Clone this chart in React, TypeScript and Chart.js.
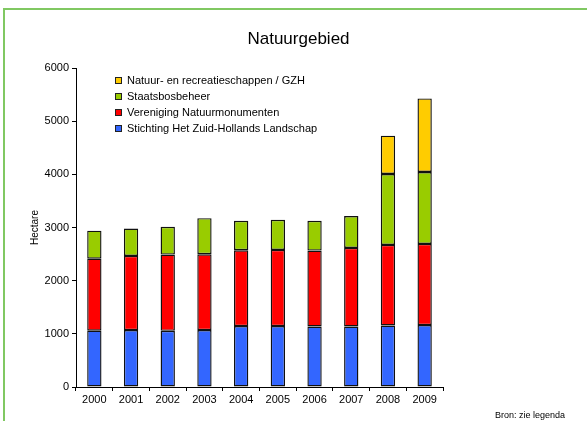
import React, { useEffect, useRef } from "react";
import { Chart, registerables } from "chart.js";

Chart.register(...registerables);

// ---- data ----
const years = ["2000", "2001", "2002", "2003", "2004", "2005", "2006", "2007", "2008", "2009"];
const zuidHollandsLandschap = [1059, 1070, 1057, 1070, 1145, 1145, 1138, 1138, 1157, 1164];
const natuurmonumenten = [1354, 1396, 1434, 1427, 1427, 1434, 1428, 1478, 1516, 1528];
const staatsbosbeheer = [527, 515, 522, 679, 554, 566, 560, 598, 1333, 1352];
const recreatieschappen: (number | null)[] = [null, null, null, null, null, null, null, null, 721, 1384];

const seriesLabels = [
  "Stichting Het Zuid-Hollands Landschap",
  "Vereniging Natuurmonumenten",
  "Staatsbosbeheer",
  "Natuur- en recreatieschappen / GZH",
];
const seriesColors = ["#3366FF", "#FF0000", "#99CC00", "#FFCC00"];

const yMin = 0;
const yMax = 6000;
const yStep = 1000;

const chartTitle = "Natuurgebied";
const yAxisTitle = "Hectare";
const sourceNote = "Bron: zie legenda";

const FONT = '"Liberation Sans", Arial, Helvetica, sans-serif';

const overlayPlugin = {
  id: "overlayText",
  afterDraw(chart: any) {
    const ctx = chart.ctx as CanvasRenderingContext2D;
    const area = chart.chartArea;
    ctx.save();
    ctx.fillStyle = "#000";
    // title
    ctx.font = `17px ${FONT}`;
    ctx.textAlign = "center";
    ctx.textBaseline = "middle";
    ctx.fillText(chartTitle, 298.5, 39);
    // source note
    ctx.font = `9px ${FONT}`;
    ctx.textAlign = "right";
    ctx.fillText(sourceNote, 565, 416);
    // legend (reverse order, inside plot area)
    const dsList = chart.data.datasets.slice().reverse();
    ctx.font = `11px ${FONT}`;
    ctx.textAlign = "left";
    const lx = area.left + 38.5;
    const ly = area.top + 12;
    dsList.forEach((d: any, i: number) => {
      const y = Math.round(ly + i * 16);
      ctx.fillStyle = d.backgroundColor;
      ctx.fillRect(Math.round(lx), y - 3, 7, 7);
      ctx.strokeStyle = "#222";
      ctx.lineWidth = 1;
      ctx.strokeRect(Math.round(lx) + 0.5, y - 2.5, 6, 6);
      ctx.fillStyle = "#000";
      ctx.fillText(d.label, Math.round(lx) + 12, y + 0.5);
    });
    ctx.restore();
  },
};

export default function App() {
  const canvasRef = useRef<HTMLCanvasElement | null>(null);

  useEffect(() => {
    if (!canvasRef.current) return;
    const seriesData = [zuidHollandsLandschap, natuurmonumenten, staatsbosbeheer, recreatieschappen];
    const chart = new Chart(canvasRef.current, {
      type: "bar",
      data: {
        labels: years,
        datasets: seriesData.map((data, i) => ({
          label: seriesLabels[i],
          data: data as any,
          backgroundColor: seriesColors[i],
          borderColor: "#111",
          borderWidth: 1.4,
          borderSkipped: false,
          barPercentage: 0.39,
          categoryPercentage: 1,
        })),
      },
      options: {
        animation: false,
        responsive: false,
        devicePixelRatio: 1,
        layout: { padding: { left: 0, top: 68, right: 144, bottom: 14 } },
        plugins: {
          legend: { display: false },
          title: { display: false },
          tooltip: { enabled: false },
        },
        scales: {
          x: {
            stacked: true,
            offset: true,
            grid: {
              offset: true,
              drawOnChartArea: false,
              drawTicks: true,
              tickLength: 4,
              color: "#000",
            },
            border: { display: true, color: "#000", width: 1 },
            ticks: { color: "#000", font: { family: FONT, size: 11 }, padding: 2, maxRotation: 0 },
            afterFit: (scale: any) => {
              scale.height = 20;
            },
          },
          y: {
            stacked: true,
            min: yMin,
            max: yMax,
            grid: {
              drawOnChartArea: false,
              drawTicks: true,
              tickLength: 4,
              color: "#000",
            },
            border: { display: true, color: "#000", width: 1 },
            ticks: {
              stepSize: yStep,
              color: "#000",
              font: { family: FONT, size: 11 },
              padding: 3,
              callback: (value: any) => String(value),
            },
            title: {
              display: true,
              text: yAxisTitle,
              color: "#000",
              font: { family: FONT, size: 10 },
              padding: { top: 29, bottom: 0 },
            },
            afterFit: (scale: any) => {
              scale.width = 76;
            },
          },
        },
      },
      plugins: [overlayPlugin],
    });
    return () => chart.destroy();
  }, []);

  return (
    <div
      style={{
        position: "fixed",
        left: 0,
        top: 0,
        width: 587,
        height: 421,
        overflow: "hidden",
        background: "#fff",
      }}
    >
      <div
        style={{
          position: "absolute",
          left: 3,
          top: 8,
          width: 800,
          height: 800,
          border: "2px solid #80c862",
          boxSizing: "border-box",
        }}
      />
      <canvas
        ref={canvasRef}
        width={587}
        height={421}
        style={{ position: "absolute", left: 0, top: 0, width: 587, height: 421 }}
      />
    </div>
  );
}
